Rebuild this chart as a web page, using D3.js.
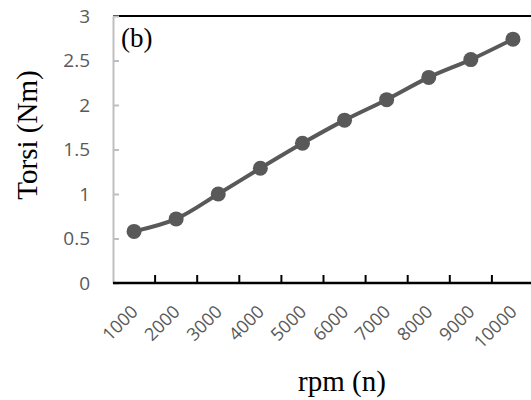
<!DOCTYPE html>
<html>
<head>
<meta charset="utf-8">
<script src="https://cdn.jsdelivr.net/npm/d3@7"></script>
<style>
  body { margin: 0; background: #fff; }
</style>
</head>
<body>
<div id="chart"></div>
<script>
// data
var rpm = ["1000", "2000", "3000", "4000", "5000", "6000", "7000", "8000", "9000", "10000"];
var torsi = [0.58, 0.72, 1.00, 1.29, 1.57, 1.83, 2.06, 2.31, 2.51, 2.74];
var yTicks = [0, 0.5, 1, 1.5, 2, 2.5, 3];

var W = 531, H = 400;
var margin = {top: 16, left: 113, bottom: 117, right: -3};

var svg = d3.select("#chart")
  .append("svg")
    .attr("width", W)
    .attr("height", H);

var x = d3.scaleBand().domain(rpm).range([margin.left, W - margin.right]);
var y = d3.scaleLinear().domain([0, 3]).range([H - margin.bottom, margin.top]);

var grey = "#595959";
var sans = "'Open Sans', sans-serif";
var serif = "'Liberation Serif', 'Times New Roman', serif";

// top border
svg.append("line")
  .attr("x1", margin.left).attr("x2", W)
  .attr("y1", y(3)).attr("y2", y(3))
  .attr("stroke", "#000").attr("stroke-width", 2);

// y axis (light grey, inner ticks)
var yAxis = svg.append("g")
  .attr("transform", "translate(" + margin.left + ",0)")
  .call(d3.axisRight(y).tickValues(yTicks).tickSize(6).tickSizeOuter(0).tickFormat(""));
yAxis.selectAll("line, path").attr("stroke", "#bfbfbf").attr("stroke-width", 2);

svg.append("g").selectAll("text")
  .data(yTicks)
  .enter().append("text")
    .attr("x", 90)
    .attr("y", function (d) { return y(d); })
    .attr("dy", "0.35em")
    .attr("text-anchor", "end")
    .attr("font-family", sans)
    .attr("font-size", 19)
    .attr("fill", grey)
    .text(function (d) { return d; });

// x axis (black, ticks between categories pointing up)
var edges = rpm.slice(1).map(function (d) { return x(d); });
svg.append("line")
  .attr("x1", margin.left).attr("x2", W)
  .attr("y1", y(0)).attr("y2", y(0))
  .attr("stroke", "#000").attr("stroke-width", 2.5);
svg.append("g").selectAll("line")
  .data(edges)
  .enter().append("line")
    .attr("x1", function (d) { return d; })
    .attr("x2", function (d) { return d; })
    .attr("y1", y(0))
    .attr("y2", y(0) - 8)
    .attr("stroke", "#000").attr("stroke-width", 2);

svg.append("g").selectAll("text")
  .data(rpm)
  .enter().append("text")
    .attr("transform", function (d) {
      return "translate(" + (x(d) + x.bandwidth() / 2 + 5) + "," + (y(0) + 30) + ") rotate(-45)";
    })
    .attr("text-anchor", "end")
    .attr("font-family", sans)
    .attr("font-size", 18)
    .attr("fill", grey)
    .text(function (d) { return d; });

// smoothed line + markers
var line = d3.line()
  .x(function (d, i) { return x(rpm[i]) + x.bandwidth() / 2; })
  .y(function (d) { return y(d); })
  .curve(d3.curveCatmullRom);

svg.append("path")
  .datum(torsi)
  .attr("d", line)
  .attr("fill", "none")
  .attr("stroke", grey)
  .attr("stroke-width", 4);

svg.append("g").selectAll("circle")
  .data(torsi)
  .enter().append("circle")
    .attr("cx", function (d, i) { return x(rpm[i]) + x.bandwidth() / 2; })
    .attr("cy", function (d) { return y(d); })
    .attr("r", 7.5)
    .attr("fill", grey);

// labels
svg.append("text")
  .attr("x", 121).attr("y", 47)
  .attr("font-family", serif).attr("font-size", 27)
  .text("(b)");

svg.append("text")
  .attr("transform", "translate(37,135) rotate(-90)")
  .attr("text-anchor", "middle")
  .attr("font-family", serif).attr("font-size", 29)
  .text("Torsi (Nm)");

svg.append("text")
  .attr("x", 342).attr("y", 391)
  .attr("text-anchor", "middle")
  .attr("font-family", serif).attr("font-size", 29)
  .text("rpm (n)");
</script>
</body>
</html>
